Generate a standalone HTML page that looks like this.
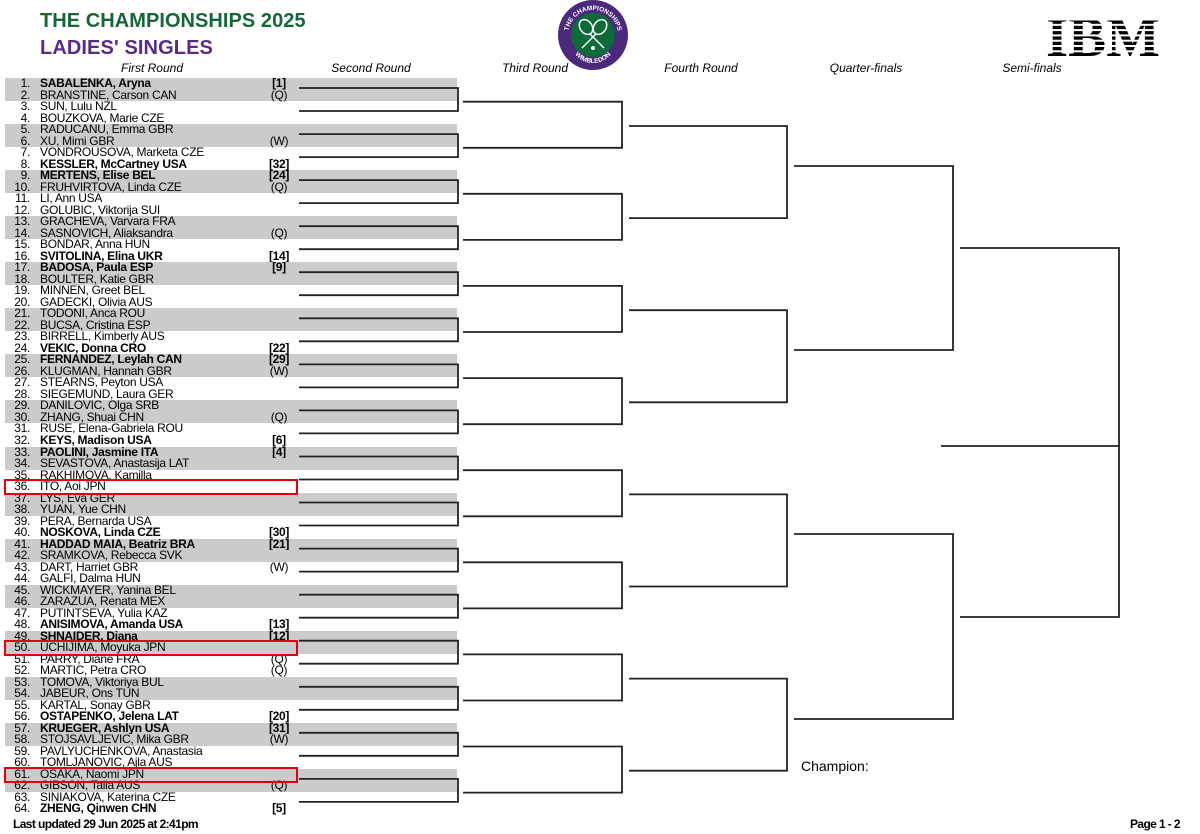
<!DOCTYPE html>
<html><head><meta charset="utf-8">
<style>
html,body{margin:0;padding:0;background:#fff;}
body{width:1200px;height:834px;position:relative;overflow:hidden;font-family:"Liberation Sans",Arial,sans-serif;color:#000;}
.h1{position:absolute;left:40px;top:10px;font-size:20px;font-weight:bold;color:#17663a;letter-spacing:0.05px;}
.h2{position:absolute;left:40px;top:37px;font-size:20px;font-weight:bold;color:#5a2a8a;letter-spacing:0.1px;}
.rl{position:absolute;top:61px;font-size:12px;font-style:italic;transform:translateX(-50%);white-space:nowrap;}
#list{position:absolute;left:5px;top:78px;width:452px;}
#list div{height:11.52px;line-height:11.52px;font-size:12px;position:relative;white-space:nowrap;letter-spacing:-0.3px;}
#list div:nth-child(4n+1),#list div:nth-child(4n+2){background:#cbcbcb;}
#list .n{position:absolute;right:427px;font-weight:normal;}
#list .m{position:absolute;left:35px;}
#list .s{position:absolute;left:274px;width:0;display:flex;justify-content:center;}
#list .b{font-weight:bold;}
.red{position:absolute;left:4px;width:290px;height:12px;border:2px solid #e00010;}
.foot{position:absolute;font-size:12px;font-weight:bold;letter-spacing:-0.6px;}
</style></head><body>
<div class="h1">THE CHAMPIONSHIPS 2025</div>
<div class="h2">LADIES' SINGLES</div>
<div class="rl" style="left:152px">First Round</div>
<div class="rl" style="left:371px">Second Round</div>
<div class="rl" style="left:535px">Third Round</div>
<div class="rl" style="left:701px">Fourth Round</div>
<div class="rl" style="left:866px">Quarter-finals</div>
<div class="rl" style="left:1032px">Semi-finals</div>

<div id="list">
<div class="b"><span class="n">1.</span><span class="m">SABALENKA, Aryna</span><span class="s">[1]</span></div>
<div><span class="n">2.</span><span class="m">BRANSTINE, Carson CAN</span><span class="s">(Q)</span></div>
<div><span class="n">3.</span><span class="m">SUN, Lulu NZL</span></div>
<div><span class="n">4.</span><span class="m">BOUZKOVA, Marie CZE</span></div>
<div><span class="n">5.</span><span class="m">RADUCANU, Emma GBR</span></div>
<div><span class="n">6.</span><span class="m">XU, Mimi GBR</span><span class="s">(W)</span></div>
<div><span class="n">7.</span><span class="m">VONDROUSOVA, Marketa CZE</span></div>
<div class="b"><span class="n">8.</span><span class="m">KESSLER, McCartney USA</span><span class="s">[32]</span></div>
<div class="b"><span class="n">9.</span><span class="m">MERTENS, Elise BEL</span><span class="s">[24]</span></div>
<div><span class="n">10.</span><span class="m">FRUHVIRTOVA, Linda CZE</span><span class="s">(Q)</span></div>
<div><span class="n">11.</span><span class="m">LI, Ann USA</span></div>
<div><span class="n">12.</span><span class="m">GOLUBIC, Viktorija SUI</span></div>
<div><span class="n">13.</span><span class="m">GRACHEVA, Varvara FRA</span></div>
<div><span class="n">14.</span><span class="m">SASNOVICH, Aliaksandra</span><span class="s">(Q)</span></div>
<div><span class="n">15.</span><span class="m">BONDAR, Anna HUN</span></div>
<div class="b"><span class="n">16.</span><span class="m">SVITOLINA, Elina UKR</span><span class="s">[14]</span></div>
<div class="b"><span class="n">17.</span><span class="m">BADOSA, Paula ESP</span><span class="s">[9]</span></div>
<div><span class="n">18.</span><span class="m">BOULTER, Katie GBR</span></div>
<div><span class="n">19.</span><span class="m">MINNEN, Greet BEL</span></div>
<div><span class="n">20.</span><span class="m">GADECKI, Olivia AUS</span></div>
<div><span class="n">21.</span><span class="m">TODONI, Anca ROU</span></div>
<div><span class="n">22.</span><span class="m">BUCSA, Cristina ESP</span></div>
<div><span class="n">23.</span><span class="m">BIRRELL, Kimberly AUS</span></div>
<div class="b"><span class="n">24.</span><span class="m">VEKIC, Donna CRO</span><span class="s">[22]</span></div>
<div class="b"><span class="n">25.</span><span class="m">FERNANDEZ, Leylah CAN</span><span class="s">[29]</span></div>
<div><span class="n">26.</span><span class="m">KLUGMAN, Hannah GBR</span><span class="s">(W)</span></div>
<div><span class="n">27.</span><span class="m">STEARNS, Peyton USA</span></div>
<div><span class="n">28.</span><span class="m">SIEGEMUND, Laura GER</span></div>
<div><span class="n">29.</span><span class="m">DANILOVIC, Olga SRB</span></div>
<div><span class="n">30.</span><span class="m">ZHANG, Shuai CHN</span><span class="s">(Q)</span></div>
<div><span class="n">31.</span><span class="m">RUSE, Elena-Gabriela ROU</span></div>
<div class="b"><span class="n">32.</span><span class="m">KEYS, Madison USA</span><span class="s">[6]</span></div>
<div class="b"><span class="n">33.</span><span class="m">PAOLINI, Jasmine ITA</span><span class="s">[4]</span></div>
<div><span class="n">34.</span><span class="m">SEVASTOVA, Anastasija LAT</span></div>
<div><span class="n">35.</span><span class="m">RAKHIMOVA, Kamilla</span></div>
<div><span class="n">36.</span><span class="m">ITO, Aoi JPN</span></div>
<div><span class="n">37.</span><span class="m">LYS, Eva GER</span></div>
<div><span class="n">38.</span><span class="m">YUAN, Yue CHN</span></div>
<div><span class="n">39.</span><span class="m">PERA, Bernarda USA</span></div>
<div class="b"><span class="n">40.</span><span class="m">NOSKOVA, Linda CZE</span><span class="s">[30]</span></div>
<div class="b"><span class="n">41.</span><span class="m">HADDAD MAIA, Beatriz BRA</span><span class="s">[21]</span></div>
<div><span class="n">42.</span><span class="m">SRAMKOVA, Rebecca SVK</span></div>
<div><span class="n">43.</span><span class="m">DART, Harriet GBR</span><span class="s">(W)</span></div>
<div><span class="n">44.</span><span class="m">GALFI, Dalma HUN</span></div>
<div><span class="n">45.</span><span class="m">WICKMAYER, Yanina BEL</span></div>
<div><span class="n">46.</span><span class="m">ZARAZUA, Renata MEX</span></div>
<div><span class="n">47.</span><span class="m">PUTINTSEVA, Yulia KAZ</span></div>
<div class="b"><span class="n">48.</span><span class="m">ANISIMOVA, Amanda USA</span><span class="s">[13]</span></div>
<div class="b"><span class="n">49.</span><span class="m">SHNAIDER, Diana</span><span class="s">[12]</span></div>
<div><span class="n">50.</span><span class="m">UCHIJIMA, Moyuka JPN</span></div>
<div><span class="n">51.</span><span class="m">PARRY, Diane FRA</span><span class="s">(Q)</span></div>
<div><span class="n">52.</span><span class="m">MARTIC, Petra CRO</span><span class="s">(Q)</span></div>
<div><span class="n">53.</span><span class="m">TOMOVA, Viktoriya BUL</span></div>
<div><span class="n">54.</span><span class="m">JABEUR, Ons TUN</span></div>
<div><span class="n">55.</span><span class="m">KARTAL, Sonay GBR</span></div>
<div class="b"><span class="n">56.</span><span class="m">OSTAPENKO, Jelena LAT</span><span class="s">[20]</span></div>
<div class="b"><span class="n">57.</span><span class="m">KRUEGER, Ashlyn USA</span><span class="s">[31]</span></div>
<div><span class="n">58.</span><span class="m">STOJSAVLJEVIC, Mika GBR</span><span class="s">(W)</span></div>
<div><span class="n">59.</span><span class="m">PAVLYUCHENKOVA, Anastasia</span></div>
<div><span class="n">60.</span><span class="m">TOMLJANOVIC, Ajla AUS</span></div>
<div><span class="n">61.</span><span class="m">OSAKA, Naomi JPN</span></div>
<div><span class="n">62.</span><span class="m">GIBSON, Talia AUS</span><span class="s">(Q)</span></div>
<div><span class="n">63.</span><span class="m">SINIAKOVA, Katerina CZE</span></div>
<div class="b"><span class="n">64.</span><span class="m">ZHENG, Qinwen CHN</span><span class="s">[5]</span></div>
</div>

<div class="red" style="top:479px"></div>
<div class="red" style="top:640px"></div>
<div class="red" style="top:767px"></div>

<svg width="1200" height="834" style="position:absolute;left:0;top:0" xmlns="http://www.w3.org/2000/svg">
<g fill="none" stroke="#222" stroke-width="1.8">
<path d="M299 88H458V111H299M299 134.1H458V157.1H299M299 180.1H458V203.1H299M299 226.2H458V249.2H299M299 272.2H458V295.2H299M299 318.3H458V341.3H299M299 364.4H458V387.4H299M299 410.4H458V433.4H299M299 456.5H458V479.5H299M299 502.5H458V525.5H299M299 548.6H458V571.6H299M299 594.7H458V617.7H299M299 640.7H458V663.7H299M299 686.8H458V709.8H299M299 732.8H458V755.8H299M299 778.9H458V801.9H299"/>
<path d="M463 101.7H622V147.8H463M463 193.8H622V239.9H463M463 285.9H622V332H463M463 378.1H622V424.2H463M463 470.2H622V516.3H463M463 562.3H622V608.4H463M463 654.4H622V700.5H463M463 746.5H622V792.6H463"/>
<path d="M629 126H787V218.1H629M629 310.2H787V402.3H629M629 494.4H787V586.5H629M629 678.6H787V770.7H629"/>
<path d="M794 166H953V350H794M794 534H953V719H794"/>
<path d="M960 248H1119V617H960M941 446H1119"/>
</g>
<circle cx="593" cy="35" r="35" fill="#4b2a7e"/>
<circle cx="593" cy="35" r="22" fill="#0d6b3a"/>
<defs><path id="arcT" d="M568 35 A25 25 0 0 1 618 35"/><path id="arcB" d="M570 40 A23 23 0 0 0 616 40"/></defs>
<text font-size="6.5" font-weight="bold" fill="#fff" font-family="Liberation Sans, sans-serif"><textPath href="#arcT" startOffset="50%" text-anchor="middle">THE CHAMPIONSHIPS</textPath></text>
<text font-size="6.5" font-weight="bold" fill="#fff" font-family="Liberation Sans, sans-serif"><textPath href="#arcB" startOffset="50%" text-anchor="middle">WIMBLEDON</textPath></text>
<g stroke="#fff" stroke-width="1.5" fill="none">
<ellipse cx="586" cy="27" rx="6" ry="8" transform="rotate(-35 586 27)"/>
<ellipse cx="600" cy="27" rx="6" ry="8" transform="rotate(35 600 27)"/>
<path d="M590 34L604 48M596 34L582 48"/>
</g>
<circle cx="593" cy="48" r="2" fill="#fff"/>
<text x="1046" y="56" font-family="Liberation Serif, serif" font-weight="bold" font-size="56" textLength="114" lengthAdjust="spacingAndGlyphs">IBM</text>
<g fill="#fff">
<rect x="1040" y="18.5" width="130" height="2"/><rect x="1040" y="23.8" width="130" height="2"/>
<rect x="1040" y="29.1" width="130" height="2"/><rect x="1040" y="34.4" width="130" height="2"/>
<rect x="1040" y="39.7" width="130" height="2"/><rect x="1040" y="45" width="130" height="2"/>
<rect x="1040" y="50.3" width="130" height="2"/>
</g>
<text x="801" y="771" font-size="14" font-family="Liberation Sans, sans-serif">Champion:</text>
</svg>

<div class="foot" style="left:13px;top:817px">Last updated 29 Jun 2025 at 2:41pm</div>
<div class="foot" style="right:20px;top:817px">Page 1 - 2</div>
</body></html>
